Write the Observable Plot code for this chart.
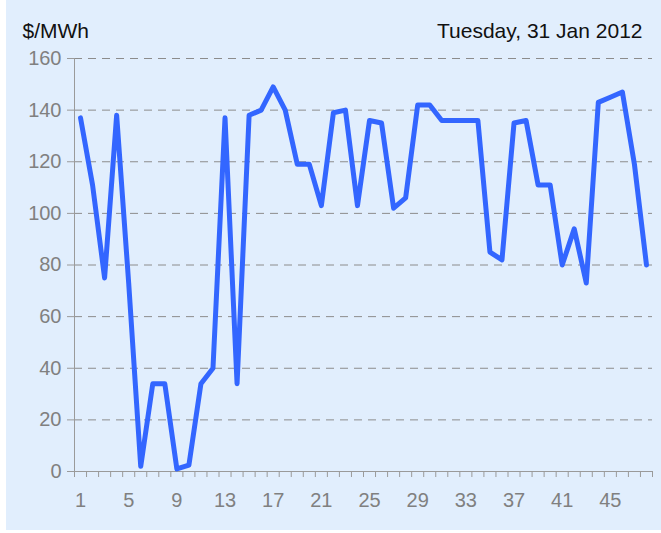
<!DOCTYPE html>
<html>
<head>
<meta charset="utf-8">
<script src="https://cdn.jsdelivr.net/npm/d3@7"></script>
<script src="https://cdn.jsdelivr.net/npm/@observablehq/plot@0.6"></script>
<style>
  html, body { margin: 0; padding: 0; background: #ffffff; }
  #chart { position: absolute; left: 6px; top: 0; }
  #chart svg { display: block; }
</style>
</head>
<body>
<div id="chart"></div>
<script>
const periods = d3.range(1, 49);
const prices = [137,111,75,138,73,2,34,34,1,2.5,34,40,137,34,138,140,149,140,119,119,103,139,140,103,136,135,102,106,142,142,136,136,136,136,85,82,135,136,111,111,80,94,73,143,145,147,119,80];
const yTicks = [0,20,40,60,80,100,120,140,160];
const xLabels = [1,5,9,13,17,21,25,29,33,37,41,45];
const xEdges = d3.range(0.5, 49, 1);
const unitLabel = "$/MWh";
const dateLabel = "Tuesday, 31 Jan 2012";

const data = periods.map((p, i) => ({period: p, price: prices[i]}));

const chart = Plot.plot({
  width: 655,
  height: 530,
  marginLeft: 68,
  marginRight: 9,
  marginTop: 58,
  marginBottom: 59,
  style: {background: "#e1eefd", fontFamily: "'Liberation Sans', Arial, sans-serif", fontSize: "20px"},
  x: {type: "linear", domain: [0.5, 48.5], label: null},
  y: {domain: [0, 160], label: null},
  marks: [
    Plot.ruleY(yTicks.filter(d => d > 0), {y: d => d, stroke: "#8c8c8c", strokeDasharray: "8,6"}),
    Plot.ruleY([0], {stroke: "#9a9a9a"}),
    Plot.ruleX([0.5], {y1: 0, y2: 160, stroke: "#9a9a9a"}),
    Plot.axisY(yTicks, {tickSize: 7, tickPadding: 6, fontSize: 20, color: "#808080", stroke: "#9a9a9a", label: null}),
    Plot.axisX(xEdges, {tickSize: 6, tickFormat: () => "", stroke: "#9a9a9a", label: null}),
    Plot.axisX(xLabels, {tickSize: 0, tickPadding: 21, fontSize: 20, color: "#808080", label: null}),
    Plot.line(data, {x: "period", y: "price", stroke: "#3366ff", strokeWidth: 5, strokeLinejoin: "round", strokeLinecap: "round"}),
    Plot.text([unitLabel], {frameAnchor: "top-left", dx: -52, dy: -21, textAnchor: "start", lineAnchor: "bottom", fontSize: 21, fill: "#111"}),
    Plot.text([dateLabel], {frameAnchor: "top-right", dx: -10, dy: -21, textAnchor: "end", lineAnchor: "bottom", fontSize: 21, fill: "#111"})
  ]
});
document.getElementById("chart").appendChild(chart);
</script>
</body>
</html>
